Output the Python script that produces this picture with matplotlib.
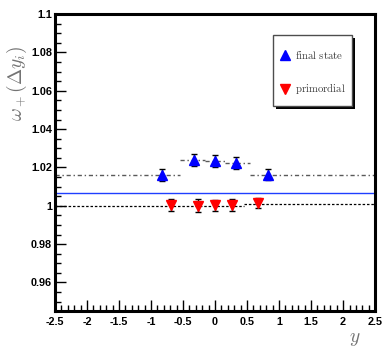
import matplotlib.pyplot as plt
from matplotlib.ticker import MultipleLocator
import matplotlib.patches as mpatches

plt.rcParams['mathtext.fontset'] = 'cm'

# data
final_x = [-0.83, -0.33, 0.0, 0.33, 0.83]
final_y = [1.0162, 1.0238, 1.0232, 1.0222, 1.0162]
final_err = [0.0032, 0.0030, 0.0032, 0.0032, 0.0028]

prim_x = [-0.69, -0.27, 0.0, 0.27, 0.67]
prim_y = [1.0005, 1.0001, 1.0002, 1.0003, 1.0013]
prim_err = [0.0030, 0.0032, 0.0030, 0.0030, 0.0025]

# step curves (dash-dot = final state, dashed = primordial), no verticals
final_lo = [-2.5, -0.55, -0.15, 0.15, 0.55]
final_hi = [-0.55, -0.15, 0.15, 0.55, 2.5]
final_steps = [1.0162, 1.0238, 1.0232, 1.0222, 1.0162]
prim_lo = [-2.5, 0.45]
prim_hi = [0.45, 2.5]
prim_steps = [1.0000, 1.0010]

level = 1.0068

fig = plt.figure(figsize=(3.92, 3.54), dpi=100)
ax = fig.add_axes([0.140, 0.121, 0.817, 0.839])

ax.hlines(final_steps, final_lo, final_hi, color='0.35', lw=1.0, linestyles=[(0, (3, 2, 1, 2))])
ax.hlines(prim_steps, prim_lo, prim_hi, color='black', lw=0.9, linestyles=[(0, (2, 1.5))])
ax.axhline(level, color='#1f3fff', lw=1.0)

ax.errorbar(final_x, final_y, yerr=final_err, fmt='^', color='blue', ms=6.5,
            ecolor='black', elinewidth=1.0, capsize=2.5, capthick=1.0, zorder=5)
ax.errorbar(prim_x, prim_y, yerr=prim_err, fmt='v', color='red', ms=6.5,
            ecolor='black', elinewidth=1.0, capsize=2.5, capthick=1.0, zorder=5)

ax.set_xlim(-2.5, 2.5)
ax.set_ylim(0.945, 1.1)
ax.xaxis.set_major_locator(MultipleLocator(0.5))
ax.xaxis.set_minor_locator(MultipleLocator(0.1))
ax.yaxis.set_major_locator(MultipleLocator(0.02))
ax.yaxis.set_minor_locator(MultipleLocator(0.005))
ax.tick_params(which='both', direction='in', top=False, right=False, width=1.0)
ax.tick_params(which='major', length=8)
ax.tick_params(which='minor', length=4)
ax.set_xticks([-2.5, -2, -1.5, -1, -0.5, 0, 0.5, 1, 1.5, 2, 2.5])
ax.set_xticklabels(['-2.5', '-2', '-1.5', '-1', '-0.5', '0', '0.5', '1', '1.5', '2', '2.5'])
ax.set_yticks([0.96, 0.98, 1.0, 1.02, 1.04, 1.06, 1.08, 1.1])
ax.set_yticklabels(['0.96', '0.98', '1', '1.02', '1.04', '1.06', '1.08', '1.1'])
for lab in ax.get_xticklabels() + ax.get_yticklabels():
    lab.set_family('Liberation Sans')
    lab.set_fontweight('bold')
    lab.set_fontsize(7.8)
ax.tick_params(axis='x', pad=4)
ax.tick_params(axis='y', pad=2)

for sp in ax.spines.values():
    sp.set_linewidth(2.2)

fig.text(0.042, 0.765, r'$\omega_+(\Delta y_i)$', rotation=90, color='0.45',
         fontsize=14, ha='center', va='center')
fig.text(0.905, 0.045, r'$y$', color='0.45', fontsize=14, ha='center', va='center')

# legend box with shadow, ROOT style
bx, by, bw, bh = 0.697, 0.700, 0.200, 0.200
fig.patches.append(mpatches.Rectangle((bx + 0.008, by - 0.008), bw, bh, transform=fig.transFigure,
                                      facecolor='black', edgecolor='none', zorder=8))
fig.patches.append(mpatches.Rectangle((bx, by), bw, bh, transform=fig.transFigure,
                                      facecolor='white', edgecolor='0.3', lw=1.0, zorder=9))
fig.lines.append(plt.Line2D([bx + 0.03], [by + 0.145], marker='^', color='blue', ms=6.5,
                            transform=fig.transFigure, zorder=10))
fig.lines.append(plt.Line2D([bx + 0.03], [by + 0.05], marker='v', color='red', ms=6.5,
                            transform=fig.transFigure, zorder=10))
fig.text(bx + 0.055, by + 0.145, r'$\mathrm{final\ state}$', fontsize=7.8, color='0.25',
         va='center', ha='left', zorder=10)
fig.text(bx + 0.055, by + 0.05, r'$\mathrm{primordial}$', fontsize=7.8, color='0.25',
         va='center', ha='left', zorder=10)

fig.savefig('out.png', dpi=100)
